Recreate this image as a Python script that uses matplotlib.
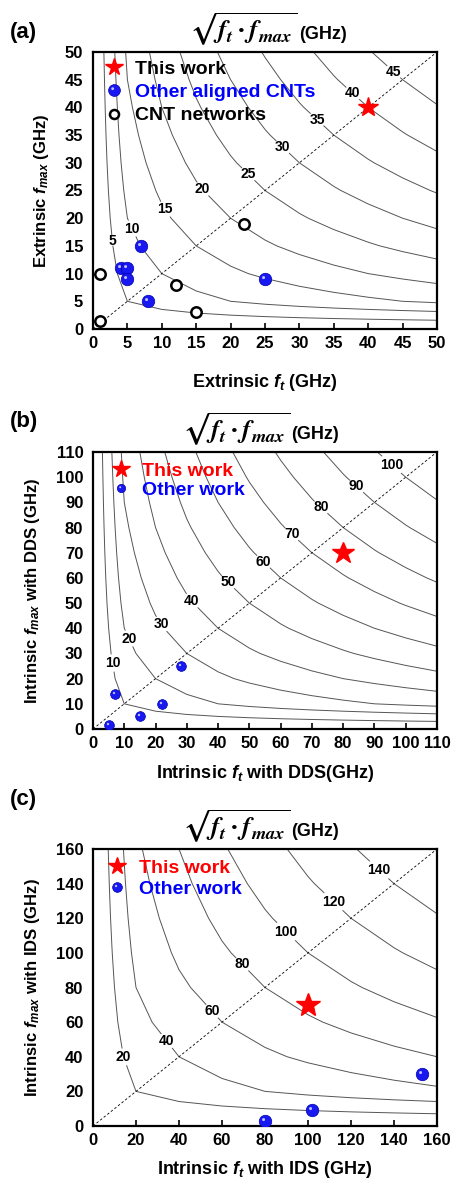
import numpy as np
import matplotlib.pyplot as plt
from matplotlib.path import Path
from matplotlib.legend_handler import HandlerTuple

plt.rcParams['font.family'] = ['Liberation Sans', 'DejaVu Sans']
plt.rcParams['font.weight'] = 'bold'
plt.rcParams['axes.labelweight'] = 'bold'
plt.rcParams['mathtext.fontset'] = 'custom'
plt.rcParams['mathtext.it'] = 'Liberation Sans:italic:bold'
plt.rcParams['mathtext.rm'] = 'Liberation Sans:bold'
plt.rcParams['mathtext.bf'] = 'Liberation Sans:bold'

# ---- data ----
# (a) extrinsic
a_this_ft, a_this_fmax = [40], [40]
a_aligned_ft = [4, 5, 5, 7, 8, 25]
a_aligned_fmax = [11, 11, 9, 15, 5, 9]
a_net_ft = [1, 1, 12, 15, 22]
a_net_fmax = [10, 1.5, 8, 3, 19]

# (b) intrinsic with DDS
b_this_ft, b_this_fmax = [80], [70]
b_other_ft = [5, 7, 15, 22, 28]
b_other_fmax = [1.5, 14, 5, 10, 25]

# (c) intrinsic with IDS
c_this_ft, c_this_fmax = [100], [70]
c_other_ft = [80, 102, 153]
c_other_fmax = [3, 9, 30]

# iso-lines of sqrt(ft*fmax)
a_levels = [5, 10, 15, 20, 25, 30, 35, 40, 45]
b_levels = [10, 20, 30, 40, 50, 60, 70, 80, 90, 100]
c_levels = [20, 40, 60, 80, 100, 120, 140]

a_ticks = np.arange(0, 51, 5)
b_ticks = np.arange(0, 111, 10)
c_ticks = np.arange(0, 161, 20)

# where the contour labels sit
a_lbl_pos = [(2.6, 15.9), (5.8, 18.2), (10.6, 21.7), (16, 25.3), (22.6, 28),
             (27.3, 32.5), (32.5, 37.7), (38.1, 43), (44.2, 47.1)]
b_lbl_pos = [(4.2, 25.8), (11.8, 36.1), (22.4, 42.1), (30.7, 50), (43.5, 58.8),
             (54.4, 66.3), (63.9, 77.8), (73.9, 89.4), (84.1, 96.1), (95, 104.3)]
c_lbl_pos = [(14, 39.7), (33.5, 48.3), (55.3, 66.2), (68.8, 92.7), (90.2, 112.8),
             (113.5, 131.8), (133.5, 148.5)]

BLUE = '#0000ff'
RED = '#ff0000'

# highlight spot for the "sphere" markers (off-centre circle path)
hl = Path.circle(center=(-0.28, 0.28), radius=0.22)

TITLE = r'$\sqrt{\mathbfit{f_t}\:\mathbf{' + '\u00b7' + r'}\:\mathbfit{f_{max}}}$'


def sphere(ax, x, y, ms):
    h1, = ax.plot(x, y, ls='none', marker='o', ms=ms, mfc='#1818f0',
                  mec='#0000b0', mew=0.5, zorder=5)
    h2, = ax.plot(x, y, ls='none', marker=hl, ms=ms * 0.55, mfc='#c0c0ff',
                  mew=0, zorder=6)
    return (h1, h2)


def setup(ax, lim, step, ticks, levels, lbl_pos, xlabel, ylabel, title_x, xpad):
    g = np.arange(0, lim + step, step)
    X, Y = np.meshgrid(g, g)
    cs = ax.contour(X, Y, np.sqrt(X * Y), levels=levels, colors='#555555',
                    linewidths=0.7, zorder=1)
    lbls = ax.clabel(cs, manual=lbl_pos, inline=True, inline_spacing=1,
                     fontsize=10, fmt='%d', colors='k')
    for t in lbls:
        t.set_rotation(0)
        t.set_fontweight('bold')
    ax.plot([0, lim], [0, lim], ls=(0, (3, 2.5)), color='k', lw=0.6, zorder=2)
    ax.set_xlim(0, lim)
    ax.set_ylim(0, lim)
    ax.set_xticks(ticks)
    ax.set_yticks(ticks)
    ax.tick_params(axis='x', direction='in', length=4, width=1.2,
                   labelsize=12, pad=5)
    ax.tick_params(axis='y', length=0, labelsize=12, pad=7)
    for t in ax.get_xticklabels() + ax.get_yticklabels():
        t.set_fontweight('bold')
    for s in ax.spines.values():
        s.set_linewidth(1.6)
    ax.set_xlabel(xlabel, fontsize=13, labelpad=xpad, fontweight='bold')
    ax.set_ylabel(ylabel, fontsize=12, labelpad=10, fontweight='bold')
    ax.annotate(TITLE, xy=(title_x, 1),
                xycoords='axes fraction', xytext=(0, 9.5),
                textcoords='offset points', ha='right', va='baseline',
                fontsize=19, math_fontfamily='stix')
    ax.annotate('(GHz)', xy=(title_x, 1), xycoords='axes fraction',
                xytext=(1, 9.5), textcoords='offset points', ha='left',
                va='baseline', fontsize=13, fontweight='bold')


fig = plt.figure(figsize=(4.54, 11.8), dpi=100)
left, width, height = 93 / 454, 344 / 454, 277 / 1180

# ---- (a) ----
ax = fig.add_axes([left, 1 - 329 / 1180, width, height])
setup(ax, 50, 5, a_ticks, a_levels, a_lbl_pos, r'Extrinsic $f_t$ (GHz)',
      r'Extrinsic $f_{max}$ (GHz)', 0.596, 15)
ax.plot(a_this_ft, a_this_fmax, ls='none', marker='*', ms=15, color=RED, zorder=7)
sphere(ax, a_aligned_ft, a_aligned_fmax, 9)
ax.plot(a_net_ft, a_net_fmax, ls='none', marker='o', ms=7.5, mfc='white',
        mec='k', mew=1.8, zorder=5)
hs1, = ax.plot([], [], ls='none', marker='*', ms=13, color=RED)
hs2 = (ax.plot([], [], ls='none', marker='o', ms=8.5, mfc='#1818f0', mec='#0000b0', mew=0.5)[0],
       ax.plot([], [], ls='none', marker=hl, ms=8.5 * 0.55, mfc='#c0c0ff', mew=0)[0])
hs3, = ax.plot([], [], ls='none', marker='o', ms=6.5, mfc='white', mec='k', mew=1.8)
leg = ax.legend([hs1, hs2, hs3], ['This work', 'Other aligned CNTs', 'CNT networks'],
                loc='upper left', bbox_to_anchor=(0.015, 0.99), borderaxespad=0,
                borderpad=0.3, frameon=False, fontsize=14, handlelength=1.0,
                handletextpad=0.6, labelspacing=0.28,
                handler_map={tuple: HandlerTuple(ndivide=1, pad=0)})
for t, c in zip(leg.get_texts(), ['k', BLUE, 'k']):
    t.set_color(c)
fig.text(10 / 454, 1 - 38 / 1180, '(a)', fontsize=16, va='baseline', fontweight='bold')

# ---- (b) ----
ax = fig.add_axes([left, 1 - 729 / 1180, width, height])
setup(ax, 110, 10, b_ticks, b_levels, b_lbl_pos, r'Intrinsic $f_t$ with DDS(GHz)',
      r'Intrinsic $f_{max}$ with DDS (GHz)', 0.573, 9)
ax.plot(b_this_ft, b_this_fmax, ls='none', marker='*', ms=16.5, color=RED, zorder=7)
sphere(ax, b_other_ft, b_other_fmax, 7)
hs1, = ax.plot([], [], ls='none', marker='*', ms=13, color=RED)
hs2 = (ax.plot([], [], ls='none', marker='o', ms=6, mfc='#1818f0', mec='#0000b0', mew=0.5)[0],
       ax.plot([], [], ls='none', marker=hl, ms=6 * 0.55, mfc='#c0c0ff', mew=0)[0])
leg = ax.legend([hs1, hs2], ['This work', 'Other work'],
                loc='upper left', bbox_to_anchor=(0.035, 0.985), borderaxespad=0,
                borderpad=0.3, frameon=False, fontsize=14, handlelength=1.0,
                handletextpad=0.6, labelspacing=0.1,
                handler_map={tuple: HandlerTuple(ndivide=1, pad=0)})
for t, c in zip(leg.get_texts(), [RED, BLUE]):
    t.set_color(c)
fig.text(10 / 454, 1 - 427 / 1180, '(b)', fontsize=16, va='baseline', fontweight='bold')

# ---- (c) ----
ax = fig.add_axes([left, 1 - 1126 / 1180, width, height])
setup(ax, 160, 20, c_ticks, c_levels, c_lbl_pos, r'Intrinsic $f_t$ with IDS (GHz)',
      r'Intrinsic $f_{max}$ with IDS (GHz)', 0.573, 8)
ax.plot(c_this_ft, c_this_fmax, ls='none', marker='*', ms=18, color=RED, zorder=7)
sphere(ax, c_other_ft, c_other_fmax, 9)
hs1, = ax.plot([], [], ls='none', marker='*', ms=13, color=RED)
hs2 = (ax.plot([], [], ls='none', marker='o', ms=7, mfc='#1818f0', mec='#0000b0', mew=0.5)[0],
       ax.plot([], [], ls='none', marker=hl, ms=7 * 0.55, mfc='#c0c0ff', mew=0)[0])
leg = ax.legend([hs1, hs2], ['This work', 'Other work'],
                loc='upper left', bbox_to_anchor=(0.025, 0.985), borderaxespad=0,
                borderpad=0.3, frameon=False, fontsize=14, handlelength=1.0,
                handletextpad=0.6, labelspacing=0.2,
                handler_map={tuple: HandlerTuple(ndivide=1, pad=0)})
for t, c in zip(leg.get_texts(), [RED, BLUE]):
    t.set_color(c)
fig.text(10 / 454, 1 - 805 / 1180, '(c)', fontsize=16, va='baseline', fontweight='bold')

fig.savefig('out.png', dpi=100)
